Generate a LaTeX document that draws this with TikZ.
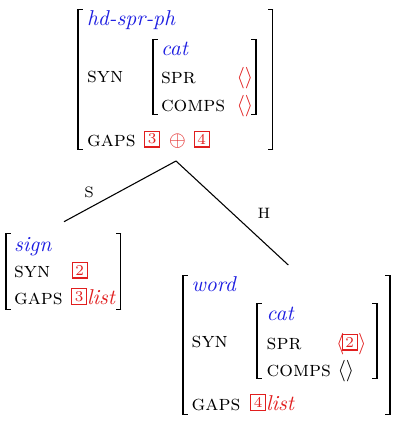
\documentclass[tikz,border=0pt]{standalone}
\usepackage{amsmath}
\usepackage{xcolor}
\definecolor{typeblue}{RGB}{30,30,225}
\definecolor{tagred}{RGB}{225,30,30}
\tikzset{
  txt/.style={inner sep=0pt, outer sep=0pt, anchor=base west},
  feat/.style={txt, font=\scshape},
  typ/.style={txt, font=\itshape, text=typeblue},
  val/.style={txt, text=tagred},
  tagbox/.style={draw=tagred, line width=0.5pt, text=tagred, inner sep=0pt,
    minimum width=7pt, minimum height=7.3pt, anchor=south west, font=\scriptsize},
  lbl/.style={inner sep=0pt, font=\scriptsize},
  branch/.style={line width=0.5pt},
  barline/.style={line width=0.9pt},
  stub/.style={line width=0.45pt}
}
% left bracket: x, top, bottom
\newcommand{\lbrk}[3]{%
  \draw[barline] (#1,#2) -- (#1,#3);
  \draw[stub] (#1-0.9,#2+0.5) -- (#1+5,#2+0.5);
  \draw[stub] (#1-0.9,#3-0.5) -- (#1+5,#3-0.5);}
\newcommand{\rbrk}[3]{%
  \draw[barline] (#1,#2) -- (#1,#3);
  \draw[stub] (#1+0.9,#2+0.5) -- (#1-5,#2+0.5);
  \draw[stub] (#1+0.9,#3-0.5) -- (#1-5,#3-0.5);}
\begin{document}
\begin{tikzpicture}[x=0.465pt,y=-0.465pt]
\useasboundingbox (0,0) rectangle (400,426);
% ---------- top AVM ----------
\lbrk{78}{9}{150}
\rbrk{272.5}{9}{150}
\node[typ] (tType) at (87,25.5) {hd-spr-ph};
\node[feat] (tSyn) at (87,82.5) {syn};
\lbrk{153.3}{39}{115}
\rbrk{256}{39}{115}
\node[typ] (tCat) at (161,55.7) {cat};
\node[feat] (tSpr) at (161,83.3) {spr};
\node[feat] (tComps) at (161,111) {comps};
\node[val] (tSprV) at (236.5,83.3) {$\langle\rangle$};
\node[val] (tCompsV) at (236.5,111) {$\langle\rangle$};
\node[feat] (tGaps) at (87,146.5) {gaps};
\node[tagbox] (tBox3) at (144,147.5) {3};
\node[val] (tPlus) at (169,146.5) {$\oplus$};
\node[tagbox] (tBox4) at (193.5,147.5) {4};
% ---------- sign AVM ----------
\lbrk{6}{233}{310.3}
\rbrk{120.5}{233}{310.3}
\node[typ] (sType) at (14,251) {sign};
\node[feat] (sSyn) at (14,277.3) {syn};
\node[tagbox] (sBox2) at (71.5,278.5) {2};
\node[feat] (sGaps) at (14,304) {gaps};
\node[tagbox] (sBox3) at (71,305) {3};
\node[val, font=\itshape] (sList) at (87,304) {list};
% ---------- word AVM ----------
\lbrk{183.3}{275}{415}
\rbrk{390}{275}{415}
\node[typ] (wType) at (191.7,291.7) {word};
\node[feat] (wSyn) at (191.7,347.3) {syn};
\lbrk{257.3}{303.3}{379.3}
\rbrk{377.3}{303.3}{379.3}
\node[typ] (wCat) at (266.7,320) {cat};
\node[feat] (wSpr) at (266.7,349.5) {spr};
\node[feat] (wComps) at (266.7,376.7) {comps};
\node[val] (wSprL) at (336,349.5) {$\langle$};
\node[tagbox] (wBox2) at (341.5,350.5) {2};
\node[val] (wSprR) at (358,349.5) {$\rangle$};
\node[txt] (wCompsV) at (337.5,376.7) {$\langle\rangle$};
\node[feat] (wGaps) at (191.7,410) {gaps};
\node[tagbox] (wBox4) at (250,411) {4};
\node[val, font=\itshape] (wList) at (266,410) {list};
% ---------- tree ----------
\coordinate (apex) at (176,161);
\coordinate (sEnd) at (64,221.7);
\coordinate (hEnd) at (288.3,265);
\draw[branch] (apex) -- (sEnd);
\draw[branch] (apex) -- (hEnd);
\node[lbl] (S) at (89,192) {S};
\node[lbl] (H) at (264,213) {H};
\end{tikzpicture}
\end{document}
